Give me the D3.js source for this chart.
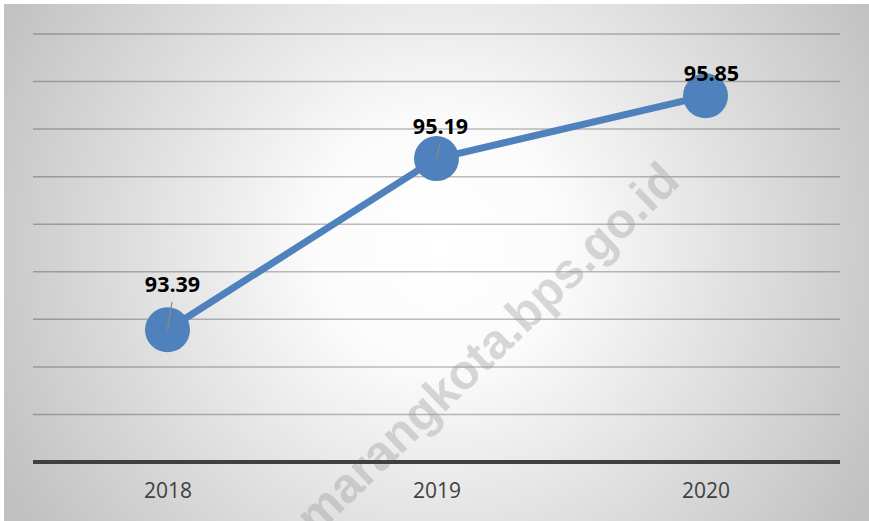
<!DOCTYPE html>
<html>
<head>
<meta charset="utf-8">
<script src="https://cdn.jsdelivr.net/npm/d3@7"></script>
<style>
  html, body { margin: 0; padding: 0; background: #ffffff; }
  svg { display: block; }
</style>
</head>
<body>
<svg id="chart" width="869" height="521"></svg>
<script>
// ---- data ----
const categories = ["2018", "2019", "2020"];
const values = [93.39, 95.19, 95.85];
const valueLabels = ["93.39", "95.19", "95.85"];
const yTicks = [92, 92.5, 93, 93.5, 94, 94.5, 95, 95.5, 96, 96.5];

// ---- layout ----
const W = 869, H = 521;
const plot = { left: 33, right: 840, top: 34, bottom: 462 };
const labelOffsets = [[5, -38], [4, -25], [6, -15]];   // manual Excel-style label placement
const leaderLines = [true, true, false];

const svg = d3.select("#chart");
const defs = svg.append("defs");
const grad = defs.append("radialGradient")
  .attr("id", "bg").attr("gradientUnits", "userSpaceOnUse")
  .attr("cx", 440).attr("cy", 245).attr("r", 500);
grad.append("stop").attr("offset", "0").attr("stop-color", "#ffffff");
grad.append("stop").attr("offset", "0.25").attr("stop-color", "#fbfbfb");
grad.append("stop").attr("offset", "1").attr("stop-color", "#c0c0c0");

svg.append("rect").attr("x", 4).attr("y", 4).attr("width", W - 4).attr("height", H - 4)
  .attr("fill", "url(#bg)");

const x = d3.scalePoint().domain(categories).range([plot.left, plot.right]).padding(0.5);
const y = d3.scaleLinear().domain([92, 96.5]).range([plot.bottom, plot.top]);

// gridlines
svg.append("g").selectAll("line").data(yTicks.slice(1)).join("line")
  .attr("x1", plot.left).attr("x2", plot.right)
  .attr("y1", d => y(d)).attr("y2", d => y(d))
  .attr("stroke", "rgba(0,0,0,0.26)").attr("stroke-width", 1.5);

// watermark
svg.append("text")
  .attr("transform", "translate(487,348) rotate(-44)")
  .attr("text-anchor", "middle").attr("dominant-baseline", "central")
  .attr("font-family", "Liberation Sans, Arial, sans-serif")
  .attr("font-weight", "bold").attr("font-size", 49)
  .attr("fill", "rgba(150,150,150,0.36)")
  .text("marangkota.bps.go.id");

// baseline axis
svg.append("line")
  .attr("x1", plot.left).attr("x2", plot.right)
  .attr("y1", y(92)).attr("y2", y(92))
  .attr("stroke", "#404040").attr("stroke-width", 4);

// x axis labels
const xAxis = d3.axisBottom(x).tickSize(0).tickPadding(0);
const gx = svg.append("g").attr("transform", `translate(0,${y(92) + 21})`).call(xAxis);
gx.select(".domain").remove();
gx.selectAll("text")
  .attr("font-family", "Open Sans, sans-serif").attr("font-size", 21)
  .attr("fill", "#404040").attr("dy", "0.71em");

// line
const data = categories.map((c, i) => ({ c, v: values[i], label: valueLabels[i], off: labelOffsets[i], lead: leaderLines[i] }));
svg.append("path").datum(data)
  .attr("d", d3.line().x(d => x(d.c)).y(d => y(d.v)))
  .attr("fill", "none").attr("stroke", "#4f81bd").attr("stroke-width", 7)
  .attr("stroke-linejoin", "round");

// markers
svg.append("g").selectAll("circle").data(data).join("circle")
  .attr("cx", d => x(d.c)).attr("cy", d => y(d.v)).attr("r", 22.5)
  .attr("fill", "#4f81bd");

// leader lines
svg.append("g").selectAll("line").data(data.filter(d => d.lead)).join("line")
  .attr("x1", d => x(d.c) + d.off[0] - 0.5).attr("y1", d => y(d.v) + d.off[1] + 10)
  .attr("x2", d => x(d.c)).attr("y2", d => y(d.v))
  .attr("stroke", "#8a8a8a").attr("stroke-width", 1.2);

// value labels
svg.append("g").selectAll("text").data(data).join("text")
  .attr("x", d => x(d.c) + d.off[0]).attr("y", d => y(d.v) + d.off[1])
  .attr("text-anchor", "middle")
  .attr("font-family", "Open Sans, sans-serif").attr("font-weight", "bold")
  .attr("font-size", 21.5).attr("fill", "#000000")
  .text(d => d.label);
</script>
</body>
</html>
